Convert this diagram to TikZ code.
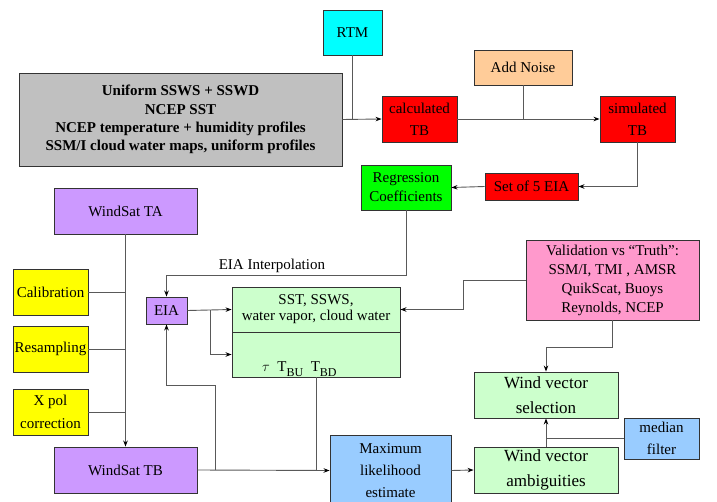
\documentclass[tikz,border=0pt]{standalone}
\usepackage{fontspec}
\setmainfont{Liberation Serif}
\usetikzlibrary{arrows.meta}
\definecolor{rtmcyan}{RGB}{0,255,255}
\definecolor{inputgray}{RGB}{192,192,192}
\definecolor{tbred}{RGB}{255,0,0}
\definecolor{noisepeach}{RGB}{255,204,153}
\definecolor{reggreen}{RGB}{0,255,0}
\definecolor{satpurple}{RGB}{204,153,255}
\definecolor{corryellow}{RGB}{255,255,0}
\definecolor{paleGreen}{RGB}{204,255,204}
\definecolor{valpink}{RGB}{255,153,204}
\definecolor{paleblue}{RGB}{153,204,255}

\begin{document}
\begin{tikzpicture}[x=1pt,y=-1pt,>={Stealth[length=6pt,width=4.5pt,black]},
  blk/.style={draw=black!80,line width=0.9pt,align=center,inner sep=0pt,font=\fontsize{15}{19}\selectfont},
  link/.style={draw=black!65,line width=0.9pt}]
\clip (0,0) rectangle (717,502);

\node[blk,fill=rtmcyan,minimum width=59pt,minimum height=45pt] (rtm) at (352.5,32.5) {RTM};
\node[blk,fill=inputgray,minimum width=323pt,minimum height=93pt,font=\fontsize{15}{18.3}\selectfont\bfseries] (inputs) at (180.5,119.5)
  {Uniform SSWS + SSWD\\NCEP SST\\NCEP temperature + humidity profiles\\SSM/I cloud water maps, uniform profiles};
\node[blk,fill=tbred,minimum width=75pt,minimum height=46pt,font=\fontsize{15}{22}\selectfont] (calc) at (419.5,119) {calculated\\TB};
\node[blk,fill=noisepeach,minimum width=98pt,minimum height=35pt] (noise) at (523,67.5) {Add Noise};
\node[blk,fill=tbred,minimum width=75pt,minimum height=46pt,font=\fontsize{15}{22}\selectfont] (sim) at (637.5,119) {simulated\\TB};
\node[blk,fill=tbred,minimum width=93pt,minimum height=27pt] (eiaset) at (531.5,186.5) {Set of 5 EIA};
\node[blk,fill=reggreen,minimum width=90pt,minimum height=45pt] (reg) at (406,187.5) {Regression\\Coefficients};

\node[blk,fill=satpurple,minimum width=143pt,minimum height=46pt] (ta) at (125.5,211) {WindSat TA};
\node[blk,fill=corryellow,minimum width=75pt,minimum height=46pt] (cal) at (50.5,292) {Calibration};
\node[blk,fill=corryellow,minimum width=75pt,minimum height=46pt] (res) at (50.5,349) {Resampling};
\node[blk,fill=corryellow,minimum width=75pt,minimum height=46pt,font=\fontsize{15}{23}\selectfont] (xpol) at (50.5,412) {X pol\\correction};
\node[blk,fill=satpurple,minimum width=143pt,minimum height=46pt] (tb) at (125.5,470) {WindSat TB};

\node[blk,fill=satpurple,minimum width=41pt,minimum height=27pt] (eia) at (166.5,310.5) {EIA};
\node[blk,fill=paleGreen,minimum width=168pt,minimum height=45pt,font=\fontsize{15}{16}\selectfont] (geotop) at (316,309.5)
  {SST, SSWS,\\water vapor, cloud water};
\node[blk,fill=paleGreen,minimum width=168pt,minimum height=45pt] (geobot) at (316,354.5) {};
\node[font=\fontsize{15}{18}\selectfont,inner sep=0pt,anchor=base west] (geolbl) at (262,371)
  {$\tau$\ \ T\raisebox{-5pt}{\fontsize{12}{12}\selectfont BU}\ \ T\raisebox{-5pt}{\fontsize{12}{12}\selectfont BD}};

\node[blk,fill=valpink,minimum width=173pt,minimum height=80pt] (val) at (612.5,280)
  {Validation vs ``Truth'':\\SSM/I, TMI , AMSR\\QuikScat, Buoys\\Reynolds, NCEP};
\node[blk,fill=paleGreen,minimum width=144pt,minimum height=46pt,font=\fontsize{17}{25}\selectfont] (sel) at (546,395) {Wind vector\\selection};
\node[blk,fill=paleblue,minimum width=75pt,minimum height=41pt,font=\fontsize{15}{22}\selectfont] (med) at (661.5,438.5) {median\\filter};
\node[blk,fill=paleGreen,minimum width=144pt,minimum height=46pt,font=\fontsize{17}{25}\selectfont] (amb) at (546,470) {Wind vector\\ambiguities};
\node[blk,fill=paleblue,minimum width=121pt,minimum height=71pt,font=\fontsize{15}{22}\selectfont] (mle) at (390.5,470.5)
  {Maximum\\likelihood\\estimate};

\draw[link,->] (inputs.east) -- (calc.west);
\draw[link] (rtm.south) -- (rtm.south |- calc.west);
\draw[link,->] (calc.east) -- (sim.west);
\draw[link] (noise.south) -- (noise.south |- sim.west);
\draw[link,->] (sim.south) |- (eiaset.east);
\draw[link,->] (eiaset.west) -- (reg.east);
\draw[link,->] (reg.south) -- ++(0,65.5) -| (eia.north)
  node[pos=0.28,above=3pt,font=\fontsize{15}{18}\selectfont,inner sep=0pt] (interp) {EIA Interpolation};

\draw[link,->] (ta.south) -- (tb.north);
\draw[link] (cal.east) -- (cal.east -| ta.south);
\draw[link] (res.east) -- (res.east -| ta.south);
\draw[link] (xpol.east) -- (xpol.east -| ta.south);
\draw[link,->] (tb.east) -- (mle.west);
\draw[link,->] (tb.east) ++(18,0) -- ++(0,-85) -| (eia.south);
\draw[link] (geobot.south) -- (geobot.south |- mle.west);

\draw[link,->] (eia.east) -- (geotop.west);
\draw[link,->] (eia.east) ++(22.5,0) |- (geobot.west);
\draw[link,->] (val.west) -- ++(-62,0) |- (geotop.east);
\draw[link,->] (val.south) -- ++(0,27) -| (sel.north);
\draw[link,->] (mle.east) -- (amb.west);
\draw[link,->] (amb.north) -- (sel.south);
\draw[link] (med.west) -- (med.west -| amb.north);
\end{tikzpicture}
\end{document}
